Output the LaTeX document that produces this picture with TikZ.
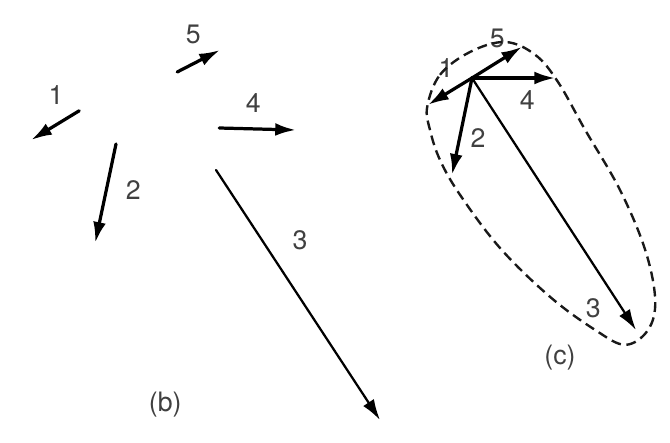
\documentclass[tikz,border=0pt]{standalone}
\usepackage{fontspec}
\setmainfont{TeX Gyre Heros}
\usetikzlibrary{arrows.meta}

\begin{document}
\begin{tikzpicture}[x=1cm,y=1cm]
\tikzset{
  vec/.style={draw=black,line width=2.3pt,line cap=round,-{Latex[length=5.2mm,width=3.2mm]}},
  longvec/.style={vec,line width=1.6pt},
  veclabel/.style={text=black!75,font=\fontsize{19}{21}\selectfont,inner sep=1pt},
  hull/.style={draw=black!90,line width=1.7pt,dash pattern=on 7pt off 4pt}
}
\useasboundingbox (0,0) rectangle (16.75,11.05);
% (b) the five vectors apart
\coordinate (b1t) at (1.98,8.28);  \coordinate (b1h) at (0.78,7.55);
\coordinate (b2t) at (2.90,7.45);  \coordinate (b2h) at (2.38,4.98);
\coordinate (b3t) at (5.40,6.80);  \coordinate (b3h) at (9.50,0.55);
\coordinate (b4t) at (5.48,7.85);  \coordinate (b4h) at (7.40,7.80);
\coordinate (b5t) at (4.43,9.25);  \coordinate (b5h) at (5.50,9.80);
\draw[vec] (b1t) -- (b1h);
\draw[vec] (b2t) -- (b2h);
\draw[longvec] (b3t) -- (b3h);
\draw[vec] (b4t) -- (b4h);
\draw[vec] (b5t) -- (b5h);
\node[veclabel] (lb1) at (1.40,8.68) {1};
\node[veclabel] (lb2) at (3.33,6.30) {2};
\node[veclabel] (lb3) at (7.50,5.05) {3};
\node[veclabel] (lb4) at (6.33,8.48) {4};
\node[veclabel] (lb5) at (4.83,10.18) {5};
\node[veclabel] (capb) at (4.13,0.93) {(b)};
% (c) the same vectors from one point
\coordinate (o) at (11.80,9.10);
\coordinate (c1) at (10.70,8.43);
\coordinate (c2) at (11.30,6.68);
\coordinate (c3) at (15.90,2.80);
\coordinate (c4) at (13.88,9.10);
\coordinate (c5) at (13.05,9.88);
\draw[vec] (o) -- (c1);
\draw[vec] (o) -- (c2);
\draw[longvec] (o) -- (c3);
\draw[vec] (o) -- (c4);
\draw[vec] (o) -- (c5);
\node[veclabel] (lc1) at (11.15,9.35) {1};
\node[veclabel] (lc2) at (11.95,7.60) {2};
\node[veclabel] (lc3) at (14.83,3.35) {3};
\node[veclabel] (lc4) at (13.18,8.55) {4};
\node[veclabel] (lc5) at (12.43,10.10) {5};
\node[veclabel] (capc) at (14.00,2.10) {(c)};
\draw[hull] plot[smooth cycle,tension=0.6] coordinates {
  (10.68,8.38) (11.00,9.18) (11.75,9.75) (12.63,10.00) (13.38,9.68)
  (13.95,9.00) (14.63,7.80) (15.50,6.30) (16.13,4.80) (16.38,3.55)
  (16.20,2.80) (15.63,2.43) (14.88,2.80) (13.75,3.63) (12.50,4.85)
  (11.50,6.18) (11.00,7.05) (10.75,7.80)};
\end{tikzpicture}
\end{document}
